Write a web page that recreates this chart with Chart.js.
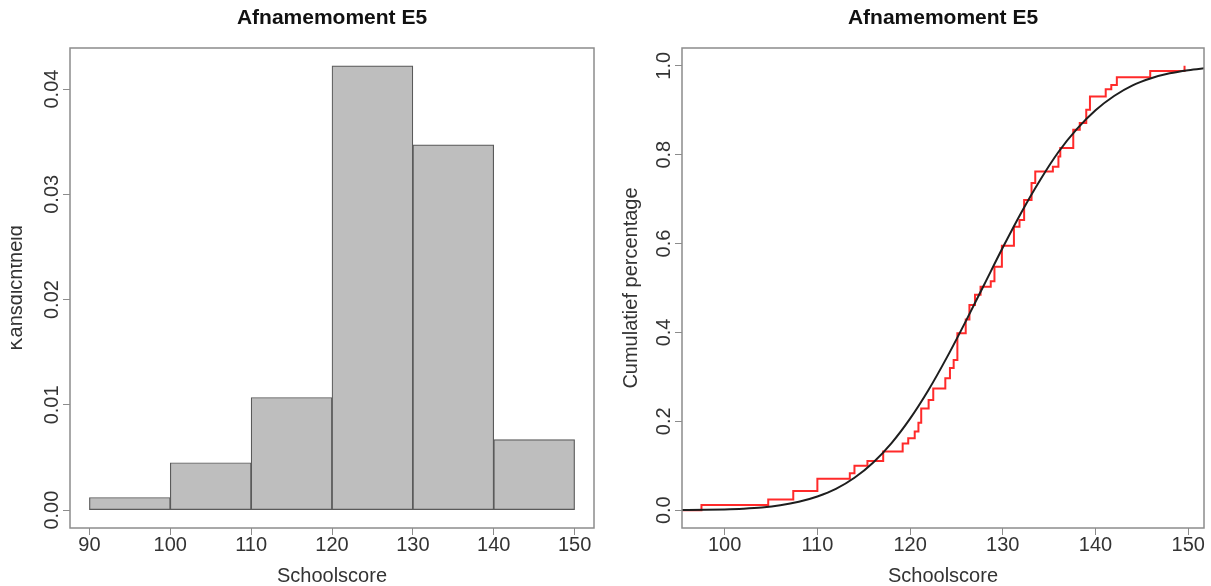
<!DOCTYPE html>
<html>
<head>
<meta charset="utf-8">
<title>Afnamemoment E5</title>
<script src="https://cdn.jsdelivr.net/npm/chart.js@4/dist/chart.umd.min.js"></script>
<style>
  body { margin: 0; background: #fff; }
  #wrap { position: relative; width: 1211px; height: 586px; }
  canvas { position: absolute; top: 0; }
  #histChart { left: 0; }
  #cdfChart { left: 605px; }
</style>
</head>
<body>
<div id="wrap">
  <canvas id="histChart" width="605" height="586"></canvas>
  <canvas id="cdfChart" width="606" height="586"></canvas>
</div>
<script>
// histogram (left)
const histEdges = [90, 100, 110, 120, 130, 140, 150]
const histDensity = [0.0012, 0.0045, 0.0107, 0.0422, 0.0347, 0.0067]
const histXTicks = [90, 100, 110, 120, 130, 140, 150]
const histYTicks = [0, 0.01, 0.02, 0.03, 0.04]
const histYLabels = ['0.00', '0.01', '0.02', '0.03', '0.04']

// empirical cumulative distribution (red steps)
const ecdfX = [95, 97.5, 104.7, 107.4, 110.0, 113.5, 114.0, 115.4, 117.1, 119.2, 119.8,
  120.5, 120.9, 121.2, 122.0, 122.5, 123.8, 124.3, 124.7, 125.1, 126.0, 126.4, 127.0,
  127.6, 128.7, 129.1, 129.9, 131.2, 131.8, 132.3, 133.1, 133.5, 135.4, 136.0, 136.2,
  137.6, 138.3, 139.0, 139.4, 141.1, 141.7, 142.3, 145.9, 149.6]
const ecdfY = [0, 0.012, 0.024, 0.043, 0.071, 0.083, 0.100, 0.111, 0.132, 0.150, 0.162,
  0.177, 0.197, 0.229, 0.248, 0.274, 0.297, 0.320, 0.338, 0.398, 0.429, 0.462, 0.485,
  0.503, 0.515, 0.548, 0.595, 0.638, 0.653, 0.698, 0.736, 0.762, 0.773, 0.796, 0.815,
  0.856, 0.871, 0.901, 0.931, 0.947, 0.957, 0.974, 0.988, 1.000]

// fitted normal curve (black)
const normX = [95, 98, 100, 102, 104, 106, 108, 110, 112, 114, 116, 118, 120, 122, 124,
  126, 128, 130, 132, 134, 136, 138, 140, 142, 144, 146, 148, 150, 152]
const normY = [0.0003, 0.0008, 0.0017, 0.0033, 0.006, 0.011, 0.019, 0.031, 0.048, 0.073,
  0.107, 0.151, 0.206, 0.271, 0.345, 0.425, 0.508, 0.591, 0.670, 0.742, 0.806, 0.858,
  0.900, 0.932, 0.956, 0.972, 0.983, 0.990, 0.995]

const cdfXTicks = [100, 110, 120, 130, 140, 150]
const cdfYTicks = [0, 0.2, 0.4, 0.6, 0.8, 1.0]
const cdfYLabels = ['0.0', '0.2', '0.4', '0.6', '0.8', '1.0']

const FONT = 'Arial, "Liberation Sans", sans-serif'
Chart.defaults.font.family = FONT
Chart.defaults.color = '#333'

// box, main title, rotated y labels and y title (R style)
const framePlugin = {
  id: 'frame',
  afterDraw(chart, args, opts) {
    const ctx = chart.ctx
    const a = chart.chartArea
    ctx.save()
    ctx.strokeStyle = '#8c8c8c'
    ctx.lineWidth = 1.5
    ctx.strokeRect(a.left, a.top, a.right - a.left, a.bottom - a.top)

    ctx.fillStyle = '#111'
    ctx.font = 'bold 21px ' + FONT
    ctx.textAlign = 'center'
    ctx.textBaseline = 'middle'
    ctx.fillText(opts.title, (a.left + a.right) / 2, 18)

    const ys = chart.scales.y
    ctx.fillStyle = '#333'
    ctx.font = '20px ' + FONT
    ctx.textBaseline = 'alphabetic'
    ys.ticks.forEach((t, i) => {
      ctx.save()
      ctx.translate(a.left - 12, ys.getPixelForValue(t.value))
      ctx.rotate(-Math.PI / 2)
      ctx.fillText(opts.yLabels[i], 0, 0)
      ctx.restore()
    })

    ctx.save()
    if (opts.clipX) {
      ctx.beginPath()
      ctx.rect(opts.clipX, 0, chart.width, chart.height)
      ctx.clip()
    }
    ctx.translate(opts.yTitleX, (a.top + a.bottom) / 2)
    ctx.rotate(-Math.PI / 2)
    ctx.fillText(opts.yTitle, 0, 0)
    ctx.restore()
    ctx.restore()
  }
}

function xAxis(min, max, ticks) {
  return {
    type: 'linear', min: min, max: max, bounds: 'data', offset: false,
    afterBuildTicks: s => { s.ticks = ticks.map(v => ({ value: v })) },
    afterFit: s => { s.height = 58 },
    grid: { drawOnChartArea: false, offset: false, tickLength: 7, color: '#8c8c8c' },
    border: { display: false },
    ticks: { autoSkip: false, maxRotation: 0, padding: 0, color: '#333',
      font: { size: 20, lineHeight: 1 } },
    title: { display: true, text: 'Schoolscore', color: '#333', padding: 0,
      font: { size: 20, lineHeight: 1 } }
  }
}

function yAxis(min, max, ticks, width) {
  return {
    type: 'linear', min: min, max: max, bounds: 'data',
    afterBuildTicks: s => { s.ticks = ticks.map(v => ({ value: v })) },
    afterFit: s => { s.width = width },
    grid: { drawOnChartArea: false, tickLength: 7, color: '#8c8c8c' },
    border: { display: false },
    ticks: { display: false }
  }
}

const histChart = new Chart(document.getElementById('histChart'), {
  type: 'bar',
  data: {
    datasets: [{
      label: 'Kansdichtheid',
      data: histDensity.map((d, i) => ({ x: (histEdges[i] + histEdges[i + 1]) / 2, y: d })),
      backgroundColor: '#bebebe',
      borderColor: '#5a5a5a',
      borderWidth: 1.2,
      borderSkipped: false,
      barPercentage: 1,
      categoryPercentage: 1
    }]
  },
  options: {
    responsive: false,
    animation: false,
    devicePixelRatio: 1,
    layout: { padding: { top: 48, right: 11, left: 0, bottom: 0 } },
    scales: {
      x: xAxis(87.6, 152.4, histXTicks),
      y: yAxis(-0.0017, 0.0439, histYTicks, 70)
    },
    plugins: {
      legend: { display: false },
      tooltip: { enabled: false },
      frame: { title: 'Afnamemoment E5', yLabels: histYLabels, yTitle: 'Kansdichtheid',
        yTitleX: 22, clipX: 11 }
    }
  },
  plugins: [framePlugin]
})

const cdfChart = new Chart(document.getElementById('cdfChart'), {
  type: 'line',
  data: {
    datasets: [
      {
        label: 'Normaal',
        data: normX.map((x, i) => ({ x: x, y: normY[i] })),
        borderColor: '#1e1e1e',
        borderWidth: 2,
        pointRadius: 0,
        cubicInterpolationMode: 'monotone',
        order: 0
      },
      {
        label: 'Empirisch',
        data: ecdfX.map((x, i) => ({ x: x, y: ecdfY[i] })),
        borderColor: '#ff2a2a',
        borderWidth: 2,
        pointRadius: 0,
        stepped: 'before',
        order: 1
      }
    ]
  },
  options: {
    responsive: false,
    animation: false,
    devicePixelRatio: 1,
    layout: { padding: { top: 48, right: 7, left: 0, bottom: 0 } },
    scales: {
      x: xAxis(95.4, 151.7, cdfXTicks),
      y: yAxis(-0.04, 1.04, cdfYTicks, 77)
    },
    plugins: {
      legend: { display: false },
      tooltip: { enabled: false },
      frame: { title: 'Afnamemoment E5', yLabels: cdfYLabels, yTitle: 'Cumulatief percentage',
        yTitleX: 32 }
    }
  },
  plugins: [framePlugin]
})
</script>
</body>
</html>
